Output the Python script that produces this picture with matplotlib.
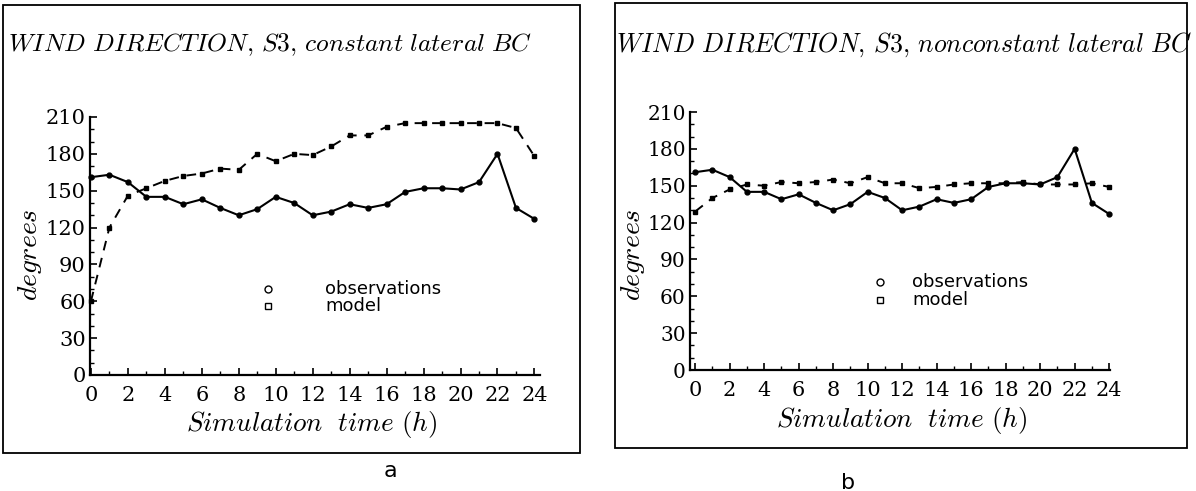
import matplotlib
matplotlib.use("Agg")
import matplotlib.pyplot as plt
from matplotlib.patches import Rectangle
from matplotlib.ticker import MultipleLocator
from matplotlib.lines import Line2D

plt.rcParams['mathtext.fontset'] = 'cm'

hours = list(range(25))
observations = [161, 163, 157, 145, 145, 139, 143, 136, 130, 135, 145, 140, 130,
                133, 139, 136, 139, 149, 152, 152, 151, 157, 180, 136, 127]
model_a = [60, 120, 146, 152, 158, 162, 164, 168, 167, 180, 174, 180, 179,
           186, 195, 195, 202, 205, 205, 205, 205, 205, 205, 201, 178]
model_b = [129, 140, 147, 151, 150, 153, 152, 153, 155, 152, 157, 152, 152,
           148, 149, 151, 152, 152, 152, 153, 151, 151, 151, 152, 149]
yticks = [0, 30, 60, 90, 120, 150, 180, 210]
xticks = [0, 2, 4, 6, 8, 10, 12, 14, 16, 18, 20, 22, 24]
titles = [r'$WIND\ DIRECTION,\,S3,\,constant\ lateral\ BC$',
          r'$WIND\ DIRECTION,\,S3,\,nonconstant\ lateral\ BC$']
panel_letters = ['a', 'b']

W, H = 1196, 491
fig = plt.figure(figsize=(W / 100, H / 100), dpi=100)

def fx(px):
    return px / W

def fy(py):
    return 1 - py / H

# panel boxes (pixel coords: left, top, right, bottom)
boxes = [(3, 5, 580, 453), (615, 3, 1187, 448)]
# axes rectangles (pixel coords: left, top(y=210), right, bottom(y=0))
axes_px = [(90, 117, 540, 375), (690, 112, 1110, 370)]
xlims = [(-0.05, 24.3), (-0.3, 24.05)]
title_pos = [(8, 45), (616, 45)]
title_sizes = [18.3, 18.6]
legend_pos = [(268, 325, 289, 306), (880, 912, 282, 300)]
xlabel_pos = [(312, 425), (902, 421)]
ylabel_pos = [(30, 255), (633, 255)]
ytick_sizes = [15, 14.5]
letter_pos = [(390, 471), (848, 483)]
models = [model_a, model_b]

for i in range(2):
    l, t, r, b = boxes[i]
    fig.add_artist(Rectangle((fx(l), fy(b)), fx(r - l), (b - t) / H,
                             transform=fig.transFigure, fill=False,
                             edgecolor='black', linewidth=1.3))
    al, at, ar, ab = axes_px[i]
    ax = fig.add_axes([fx(al), fy(ab), fx(ar - al), (ab - at) / H])
    ax.set_xlim(*xlims[i])
    ax.set_ylim(0, 210)
    for s in ['top', 'right']:
        ax.spines[s].set_visible(False)
    for s in ['left', 'bottom']:
        ax.spines[s].set_linewidth(1.6)
    ax.plot(hours, observations, '-', color='black', lw=1.5,
            marker='o', markersize=3.5, clip_on=False)
    ax.plot(hours, models[i], color='black', lw=1.4, linestyle=(0, (5, 4)),
            marker='s', markersize=3.2, clip_on=False)
    ax.set_yticks(yticks)
    ax.set_xticks(xticks)
    ax.yaxis.set_minor_locator(MultipleLocator(10))
    ax.xaxis.set_minor_locator(MultipleLocator(1))
    ax.tick_params(axis='both', which='major', direction='in', length=5,
                   width=1.2, labelsize=15)
    ax.tick_params(axis='y', labelsize=ytick_sizes[i])
    ax.tick_params(axis='both', which='minor', direction='in', length=3,
                   width=1.0)
    ax.tick_params(axis='x', pad=8)
    ax.tick_params(axis='y', pad=3)
    for lab in ax.get_xticklabels() + ax.get_yticklabels():
        lab.set_fontfamily('DejaVu Serif')
    ax.patch.set_alpha(0)

    tx, ty = title_pos[i]
    fig.text(fx(tx), fy(ty), titles[i], fontsize=title_sizes[i], ha='left',
             va='center')
    mx, txx, y1, y2 = legend_pos[i]
    fig.add_artist(Line2D([fx(mx)], [fy(y1)], marker='o', markersize=5,
                          markerfacecolor='white', markeredgecolor='black',
                          linestyle='none', transform=fig.transFigure))
    fig.add_artist(Line2D([fx(mx)], [fy(y2)], marker='s', markersize=5,
                          markerfacecolor='white', markeredgecolor='black',
                          linestyle='none', transform=fig.transFigure))
    fig.text(fx(txx), fy(y1), 'observations', fontsize=13, ha='left',
             va='center', family='DejaVu Sans')
    fig.text(fx(txx), fy(y2), 'model', fontsize=13, ha='left',
             va='center', family='DejaVu Sans')
    xx, xy = xlabel_pos[i]
    fig.text(fx(xx), fy(xy), r'$Simulation\ \ time\ (h)$', fontsize=19.5,
             ha='center', va='center')
    yx, yy = ylabel_pos[i]
    fig.text(fx(yx), fy(yy), r'$degrees$', fontsize=20, ha='center',
             va='center', rotation=90)
    lx, ly = letter_pos[i]
    fig.text(fx(lx), fy(ly), panel_letters[i], fontsize=16, ha='center',
             va='center', family='DejaVu Sans')

fig.savefig('out.png', dpi=100)
